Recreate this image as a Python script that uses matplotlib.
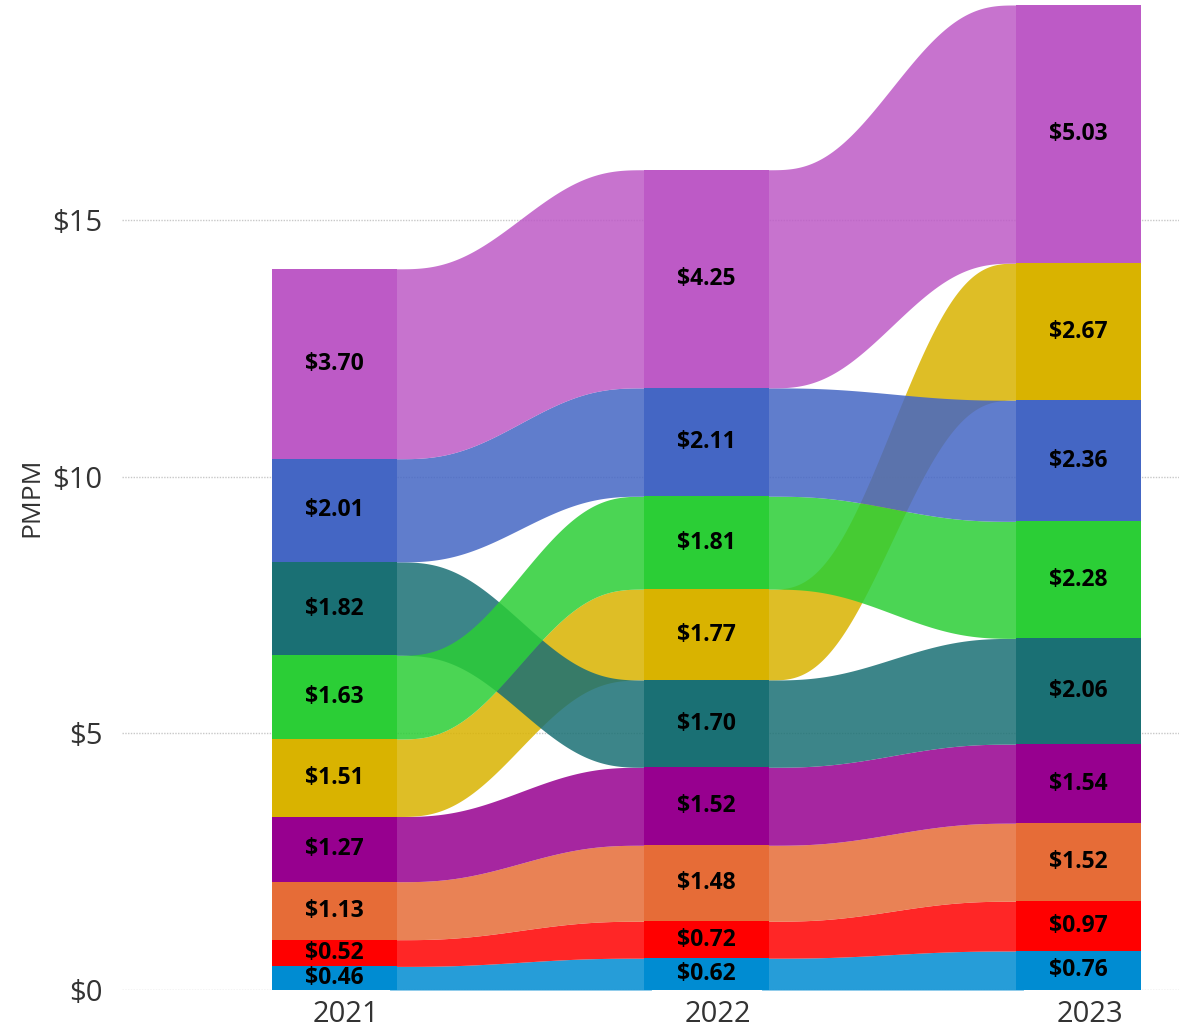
import numpy as np
import matplotlib
matplotlib.use("Agg")
import matplotlib.pyplot as plt

years = ["2021", "2022", "2023"]

# categories in drawing order (ribbons drawn later sit on top)
light_blue = [0.46, 0.62, 0.76]
red = [0.52, 0.72, 0.97]
orange = [1.13, 1.48, 1.52]
magenta = [1.27, 1.52, 1.54]
gold = [1.51, 1.77, 2.67]
teal = [1.82, 1.70, 2.06]
green = [1.63, 1.81, 2.28]
blue = [2.01, 2.11, 2.36]
violet = [3.70, 4.25, 5.03]

series = [light_blue, red, orange, magenta, gold, teal, green, blue, violet]
colors = ["#008CD2", "#FF0000", "#E66C37", "#97008F", "#D9B300",
          "#1A7074", "#2BCE36", "#4466C4", "#BD5AC6"]

yticks = [0, 5, 10, 15]
ytick_labels = ["$0", "$5", "$10", "$15"]

plt.rcParams['font.family'] = ['Open Sans', 'DejaVu Sans']

vals = np.array(series)          # (n_cat, n_year)
n_cat, n_year = vals.shape

# stack each year ascending: smallest at the bottom
bottoms = np.zeros_like(vals)
for j in range(n_year):
    order = np.argsort(vals[:, j], kind="stable")
    acc = 0.0
    for i in order:
        bottoms[i, j] = acc
        acc += vals[i, j]
tops = bottoms + vals

fig = plt.figure(figsize=(11.79, 10.34), dpi=100)
ax = fig.add_axes([122 / 1179, 44 / 1034, 1 - 122 / 1179, 990 / 1034])

bar_w = 0.336
xs = np.arange(n_year)

for y in yticks:
    ax.axhline(y, color="#c8c8c8", lw=1, ls=(0, (1, 1)), zorder=0)


def smooth(t):
    return t ** 3 * (t * (6 * t - 15) + 10)


# ribbons: flat under the bars, s-curve across the gap
for i in range(n_cat):
    for j in range(n_year - 1):
        x0 = xs[j] + bar_w / 2
        x1 = xs[j + 1] - bar_w / 2
        t = np.linspace(0, 1, 200)
        s = smooth(t)
        xx = np.concatenate([[x0 - 0.02], x0 + (x1 - x0) * t, [x1 + 0.02]])
        lo = bottoms[i, j] + (bottoms[i, j + 1] - bottoms[i, j]) * s
        hi = tops[i, j] + (tops[i, j + 1] - tops[i, j]) * s
        lo = np.concatenate([[lo[0]], lo, [lo[-1]]])
        hi = np.concatenate([[hi[0]], hi, [hi[-1]]])
        ax.fill_between(xx, lo, hi, color=colors[i], alpha=0.85,
                        lw=0, zorder=1 + i * 0.01)

for i in range(n_cat):
    ax.bar(xs, vals[i], bottom=bottoms[i], width=bar_w, color=colors[i],
           lw=0, zorder=3)
    for j in range(n_year):
        ax.text(xs[j], bottoms[i, j] + vals[i, j] / 2, f"${vals[i, j]:.2f}",
                ha="center", va="center", fontsize=16.5, fontweight="bold",
                color="black", zorder=4)

ax.set_xlim((122 - 334.5) / 372, (1179 - 334.5) / 372)
ax.set_ylim(0, 990 / 51.33)
ax.set_xticks(xs + 0.03)
ax.set_xticklabels(years, fontsize=21, color="#333333")
ax.set_yticks(yticks)
ax.set_yticklabels(ytick_labels, fontsize=21, color="#333333")
ax.tick_params(length=0)
ax.tick_params(axis="y", pad=14)
ax.tick_params(axis="x", pad=7)
for sp in ax.spines.values():
    sp.set_visible(False)

fig.text(32 / 1179, 1 - 497 / 1034, "PMPM", rotation=90, ha="center",
         va="center", fontsize=19, color="#333333")

fig.savefig("out.png", dpi=100)
